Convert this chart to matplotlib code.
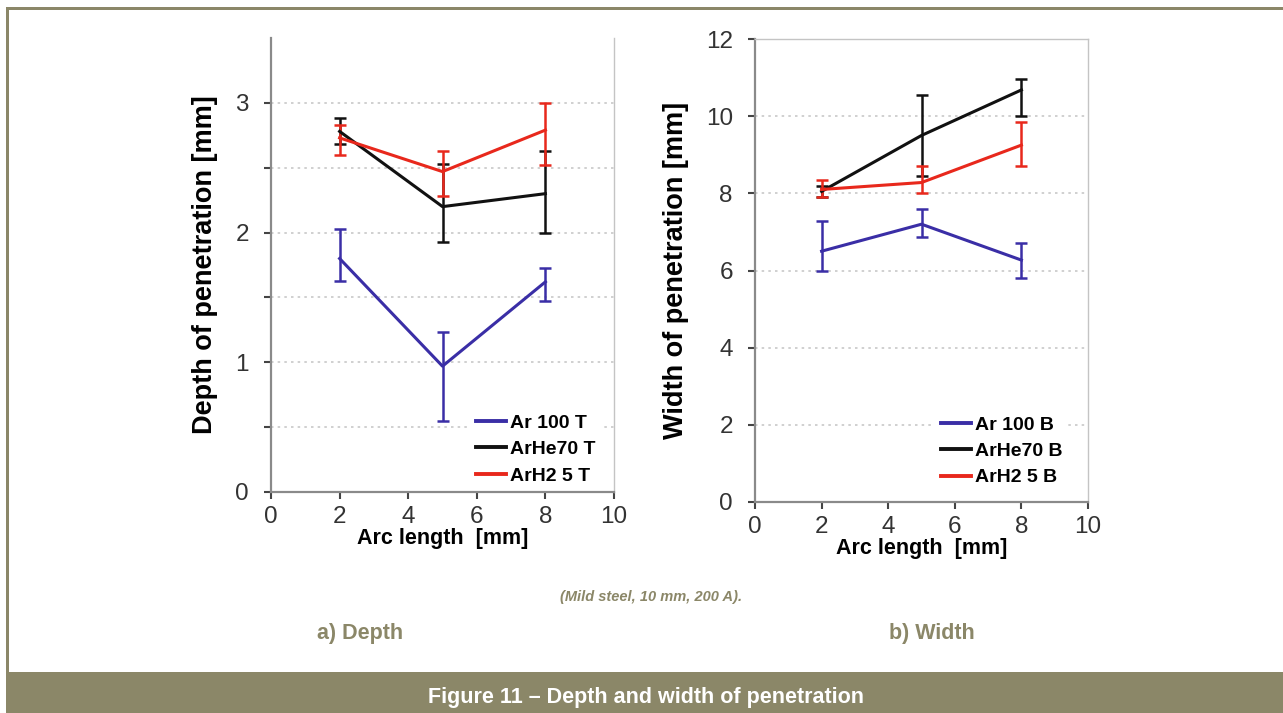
import numpy as np
import matplotlib
matplotlib.use("Agg")
import matplotlib.pyplot as plt
from matplotlib.lines import Line2D
from matplotlib.patches import Rectangle

plt.rcParams['font.family'] = ['Liberation Sans', 'DejaVu Sans']

# arc length [mm]
arc = [2, 5, 8]

# depth of penetration [mm]  (value, lower end, upper end)
depth_ar = [1.80, 0.97, 1.62]
depth_ar_lo = [1.63, 0.55, 1.47]
depth_ar_hi = [2.03, 1.23, 1.73]
depth_he = [2.78, 2.20, 2.30]
depth_he_lo = [2.68, 1.93, 2.00]
depth_he_hi = [2.88, 2.53, 2.63]
depth_h2 = [2.73, 2.47, 2.79]
depth_h2_lo = [2.60, 2.28, 2.52]
depth_h2_hi = [2.83, 2.63, 3.00]

# width of penetration [mm]
width_ar = [6.50, 7.20, 6.27]
width_ar_lo = [6.00, 6.87, 5.80]
width_ar_hi = [7.28, 7.60, 6.70]
width_he = [8.05, 9.50, 10.68]
width_he_lo = [7.90, 8.45, 10.00]
width_he_hi = [8.20, 10.55, 10.97]
width_h2 = [8.10, 8.28, 9.25]
width_h2_lo = [7.90, 8.00, 8.72]
width_h2_hi = [8.35, 8.72, 9.85]

labels_a = ["Ar 100 T", "ArHe70 T", "ArH2 5 T"]
labels_b = ["Ar 100 B", "ArHe70 B", "ArH2 5 B"]
colors = ["#3a2ea6", "#111111", "#e8281c"]
olive = "#8b8768"

fig = plt.figure(figsize=(12.83, 7.13), dpi=100)

# page frame and banner
fig.add_artist(Rectangle((6/1283, 1-10/713), 1-6/1283, 3/713, transform=fig.transFigure,
                         color=olive, lw=0))
fig.add_artist(Rectangle((6/1283, 41/713), 3/1283, 1-51/713, transform=fig.transFigure,
                         color=olive, lw=0))
fig.add_artist(Rectangle((6/1283, 0), 1-6/1283, 41/713, transform=fig.transFigure,
                         color=olive, lw=0))


def draw(ax, ys, los, his, labels, ylim, major, minor, ylabel, top_spine, leg_anchor):
    for y, lo, hi, c, lab in zip(ys, los, his, colors, labels):
        y = np.array(y)
        err = [y - np.array(lo), np.array(hi) - y]
        ax.errorbar(arc, y, yerr=err, color=c, lw=2.2, elinewidth=1.8,
                    capsize=4, capthick=1.8, zorder=3)
    ax.set_xlim(0, 10)
    ax.set_ylim(*ylim)
    ax.set_xticks(range(0, 11, 2))
    ax.set_yticks(minor)
    ax.set_yticklabels([(f"{v:g}" if v in major else "") for v in minor])
    for v in minor:
        if 0 < v < ylim[1]:
            ax.axhline(v, color="#c8c8c8", lw=1.2, ls=(0, (1.5, 2.5)), zorder=1)
    ax.tick_params(axis="both", direction="out", length=5, width=1.5, color="#444444",
                   labelsize=17.5, labelcolor="#333333")
    ax.tick_params(axis="y", pad=11)
    ax.tick_params(axis="x", pad=5)
    for s in ["left", "bottom"]:
        ax.spines[s].set_color("#8a8a8a")
        ax.spines[s].set_linewidth(1.6)
    ax.spines["right"].set_color("#c4c4c4")
    ax.spines["right"].set_linewidth(1.0)
    ax.spines["top"].set_visible(top_spine)
    ax.spines["top"].set_color("#c4c4c4")
    ax.spines["top"].set_linewidth(1.0)
    ax.set_xlabel("Arc length  [mm]", fontsize=15.5, fontweight="bold", labelpad=0)
    ax.set_ylabel(ylabel, fontsize=19.5, fontweight="bold", labelpad=12)
    handles = [Line2D([], [], color=c, lw=2.8) for c in colors]
    leg = ax.legend(handles, labels, loc="lower left", bbox_to_anchor=leg_anchor,
                    prop={"weight": "bold", "size": 14}, frameon=True,
                    facecolor="white", edgecolor="none", framealpha=1, handlelength=1.55,
                    handletextpad=0.2, labelspacing=0.45, borderpad=0.3)
    leg.set_zorder(2)


ax1 = fig.add_axes([271/1283, 1-492/713, 343/1283, 454/713])
draw(ax1, [depth_ar, depth_he, depth_h2], [depth_ar_lo, depth_he_lo, depth_h2_lo],
     [depth_ar_hi, depth_he_hi, depth_h2_hi], labels_a, (0, 3.5), [0, 1, 2, 3],
     [0, 0.5, 1, 1.5, 2, 2.5, 3], "Depth of penetration [mm]", False, (0.553, -0.018))

ax2 = fig.add_axes([755/1283, 1-502/713, 333/1283, 463/713])
draw(ax2, [width_ar, width_he, width_h2], [width_ar_lo, width_he_lo, width_h2_lo],
     [width_ar_hi, width_he_hi, width_h2_hi], labels_b, (0, 12), [0, 2, 4, 6, 8, 10, 12],
     [0, 2, 4, 6, 8, 10, 12], "Width of penetration [mm]", True, (0.511, 0.0))

fig.text(651/1283, 1-597/713, "(Mild steel, 10 mm, 200 A).", ha="center", va="center",
         fontsize=10.5, fontstyle="italic", fontweight="bold", color=olive)
fig.text(360/1283, 1-634/713, "a) Depth", ha="center", va="center",
         fontsize=15.5, fontweight="bold", color=olive)
fig.text(932/1283, 1-634/713, "b) Width", ha="center", va="center",
         fontsize=15.5, fontweight="bold", color=olive)
fig.text(646/1283, 1-697/713, "Figure 11 \u2013 Depth and width of penetration", ha="center",
         va="center", fontsize=15.5, fontweight="bold", color="white")

fig.savefig("out.png", dpi=100)
